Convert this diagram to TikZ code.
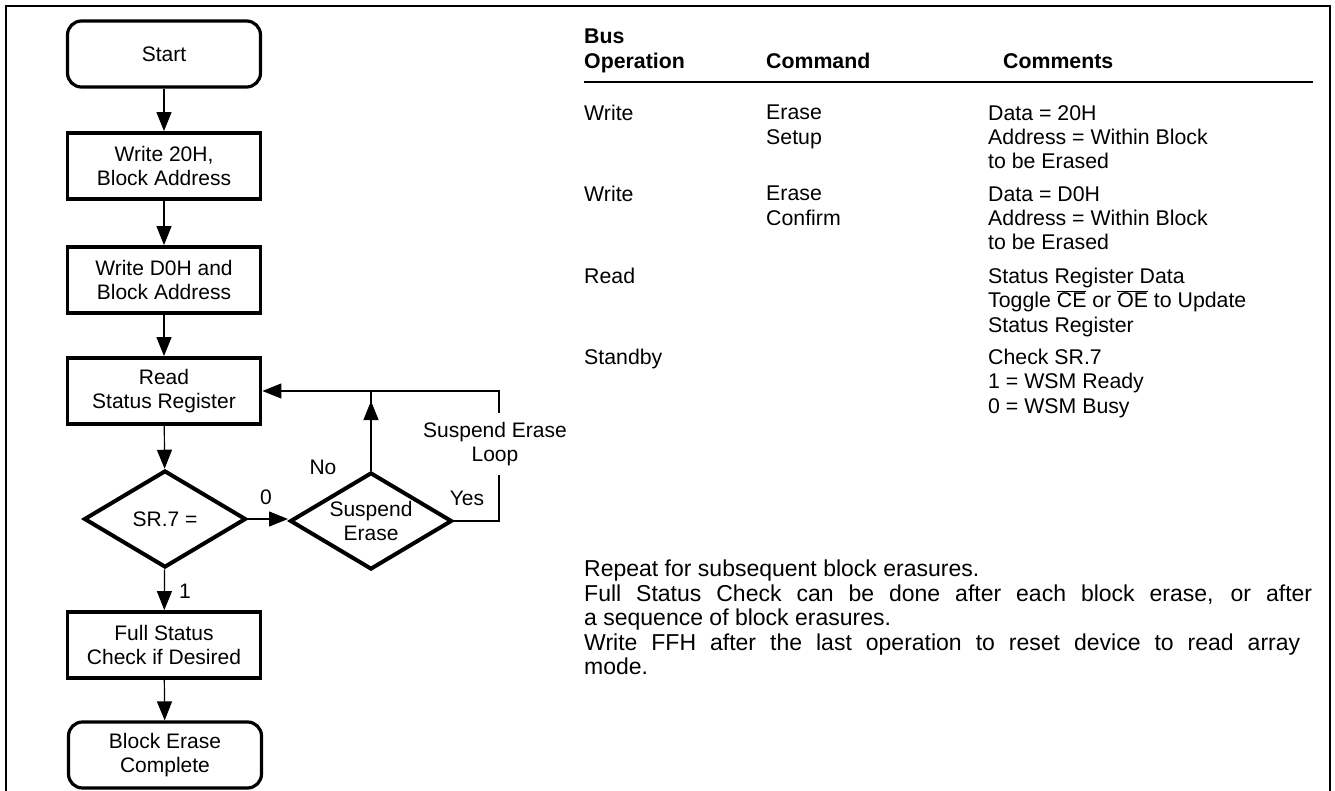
\documentclass[tikz,border=0pt]{standalone}
\usepackage{fontspec}
\setmainfont{Liberation Sans}
\usetikzlibrary{arrows.meta,shapes.geometric}
\newcommand\flowfont{\fontsize{21pt}{23.5pt}\selectfont}
\newcommand\tabfont{\fontsize{21.3pt}{24.3pt}\selectfont}
\newcommand\notefont{\fontsize{23pt}{24.5pt}\selectfont}
\begin{document}
\begin{tikzpicture}[x=1pt,y=-1pt,
  conn/.style={line width=1.2pt},
  arr/.style={conn,-{Triangle[length=19pt,width=15pt]}},
  proc/.style={draw,line width=3.8pt,minimum width=193pt,minimum height=66pt,align=center,font=\flowfont,inner sep=2pt},
  term/.style={proc,rounded corners=14pt,line width=3.2pt},
  dec/.style={diamond,draw,line width=4pt,minimum width=162pt,minimum height=97pt,inner sep=0pt,aspect=1.7,align=center,font=\flowfont},
  lbl/.style={font=\flowfont,inner sep=0pt},
  tx/.style={font=\tabfont,align=left,anchor=north west,inner sep=0pt},
  hd/.style={tx,font=\tabfont\bfseries}
]
\useasboundingbox (0,0) rectangle (1335,791);
\fill[white] (0,0) rectangle (1335,791);
% frame (open at bottom)
\draw[line width=2.5pt] (6,791) -- (6,6) -- (1330,6) -- (1330,791);

% flowchart
\node[term] (start) at (164,54) {Start};
\node[proc] (w20) at (164,166) {Write 20H,\\Block Address};
\node[proc] (wd0) at (164,280) {Write D0H and\\Block Address};
\node[proc] (rd) at (164,391) {Read\\Status Register};
\node[dec] (sr) at (165,519) {SR.7 =};
\node[dec] (sus) at (371,521) {Suspend\\Erase};
\node[proc] (fs) at (164,645) {Full Status\\Check if Desired};
\node[term] (bec) at (165,755) {Block Erase\\Complete};

\draw[arr] (start) -- (w20);
\draw[arr] (w20) -- (wd0);
\draw[arr] (wd0) -- (rd);
\draw[arr] (rd) -- (sr);
\draw[arr] (sr.east) -- node[lbl,above=14pt,pos=0.45]{0} (sr.east -| sus.west);
\draw[arr] (sr) -- node[lbl,right=14pt,pos=0.55]{1} (fs);
\draw[arr] (fs) -- (bec);

\coordinate (lp) at ([xshift=45pt]sus.east);
\coordinate (jn) at (sus.north |- rd.east);
\draw[arr] (sus.east) -- (lp) -- (lp |- rd.east) -- (rd.east);
\draw[conn] (sus.north) -- (jn);
\draw[arr] (sus.north) -- ([yshift=-10pt]jn);
\node[lbl,fill=white,inner xsep=4pt,inner ysep=9pt,align=center] (sel) at (495,444) {Suspend Erase\\Loop};
\node[lbl] (no) at (323,467) {No};
\node[lbl] (yes) at (467,498) {Yes};

% table
\node[hd] (hbus) at (584,29) {Bus\\Operation};
\node[hd] (hcmd) at (766,53) {Command};
\node[hd] (hcom) at (1003,53) {Comments};
\draw[line width=2pt] (584,82) -- (1313,82);

\node[tx] (op1) at (584,105) {Write};
\node[tx] (cm1) at (766,105) {Erase\\Setup};
\node[tx] (co1) at (988,105) {Data = 20H\\Address = Within Block\\to be Erased};

\node[tx] (op2) at (584,186) {Write};
\node[tx] (cm2) at (766,186) {Erase\\Confirm};
\node[tx] (co2) at (988,186) {Data = D0H\\Address = Within Block\\to be Erased};

\node[tx] (op3) at (584,268) {Read};
\node[tx] (co3) at (988,268) {Status Register Data\\Toggle $\overline{\mbox{CE}}$ or $\overline{\mbox{OE}}$ to Update\\Status Register};

\node[tx] (op4) at (584,349) {Standby};
\node[tx] (co4) at (988,349) {Check SR.7\\1 = WSM Ready\\0 = WSM Busy};

\node[tx,font=\notefont] (note) at (584,560) {Repeat for subsequent block erasures.\\\makebox[728pt][s]{Full Status Check can be done after each block erase, or after}\\a sequence of block erasures.\\\makebox[716pt][s]{Write FFH after the last operation to reset device to read array}\\mode.};
\end{tikzpicture}
\end{document}
